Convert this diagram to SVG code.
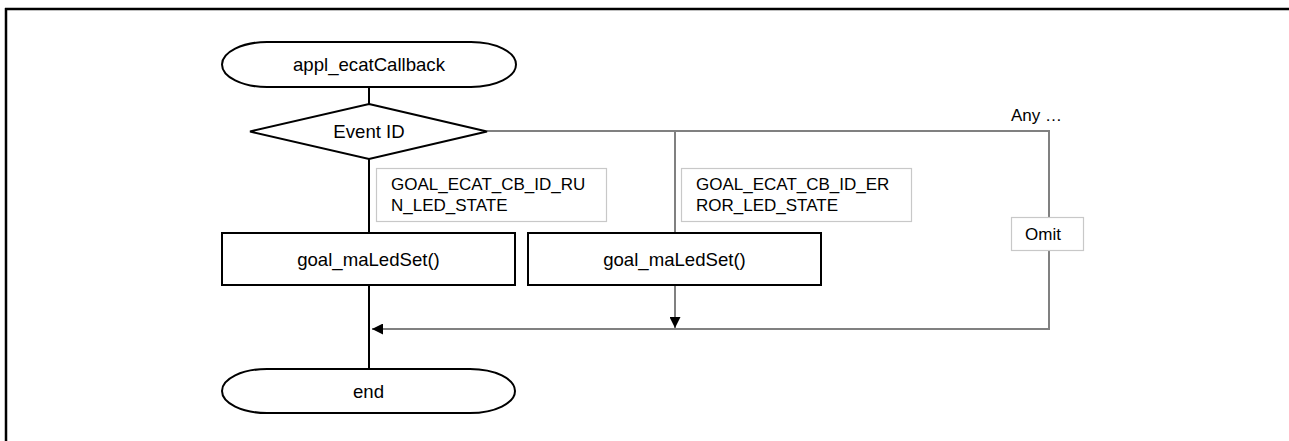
<svg xmlns="http://www.w3.org/2000/svg" width="1289" height="441" viewBox="0 0 1289 441">
<defs>
<style>
.shape{fill:#fff;stroke:#000;stroke-width:2}
.lbl{fill:#fff;stroke:#c8c8c8;stroke-width:1.2}
.main{font-family:"Liberation Sans",Arial,sans-serif;font-size:18.6px;fill:#000;text-anchor:middle}
.small{font-family:"Liberation Sans",Arial,sans-serif;font-size:17px;fill:#000}
.blk{stroke:#000;stroke-width:2;fill:none}
.gry{stroke:#808080;stroke-width:2;fill:none}
</style>
<marker id="ah" viewBox="0 0 10 10" refX="10" refY="5" markerWidth="12" markerHeight="11" markerUnits="userSpaceOnUse" orient="auto">
<path d="M0,0 L10,5 L0,10 Z" fill="#000"/>
</marker>
</defs>
<rect width="1289" height="441" fill="#fff"/>
<g id="frame">
<line x1="5" y1="9" x2="1289" y2="9" stroke="#000" stroke-width="2.5"/>
<line x1="6" y1="8" x2="6" y2="441" stroke="#000" stroke-width="2.5"/>
</g>
<g id="connectors">
<line class="blk" x1="369" y1="87" x2="369" y2="104"/>
<line class="blk" x1="369" y1="159" x2="369" y2="233"/>
<line class="blk" x1="369" y1="285" x2="369" y2="369"/>
<polyline class="gry" points="487,131 1049,131 1049,329 372,329" marker-end="url(#ah)"/>
<line class="gry" x1="675" y1="131" x2="675" y2="233"/>
<line class="gry" x1="675" y1="285" x2="675" y2="328" marker-end="url(#ah)"/>
</g>
<g id="start">
<rect class="shape" x="222" y="42" width="294" height="45" rx="45" ry="22.5"/>
<text class="main" x="369" y="71">appl_ecatCallback</text>
</g>
<g id="decision">
<polygon class="shape" points="369,104 487,131.5 369,159 250,131.5"/>
<text class="main" x="369" y="138">Event ID</text>
</g>
<g id="label-run">
<rect class="lbl" x="376.5" y="168.5" width="230" height="53"/>
<text class="small" x="391" y="190">GOAL_ECAT_CB_ID_RU</text>
<text class="small" x="391" y="211">N_LED_STATE</text>
</g>
<g id="label-error">
<rect class="lbl" x="681.5" y="168.5" width="230" height="53"/>
<text class="small" x="696" y="190">GOAL_ECAT_CB_ID_ER</text>
<text class="small" x="696" y="211">ROR_LED_STATE</text>
</g>
<g id="any-label">
<text class="small" x="1011" y="121">Any …</text>
</g>
<g id="omit-label">
<rect class="lbl" x="1011.5" y="217.5" width="72" height="33"/>
<text class="small" x="1025" y="240">Omit</text>
</g>
<g id="process-run">
<rect class="shape" x="222" y="233" width="293" height="52"/>
<text class="main" x="368.5" y="266">goal_maLedSet()</text>
</g>
<g id="process-error">
<rect class="shape" x="528" y="233" width="293" height="52"/>
<text class="main" x="674.5" y="266">goal_maLedSet()</text>
</g>
<g id="end">
<rect class="shape" x="222" y="369" width="293" height="44" rx="45" ry="22"/>
<text class="main" x="368.5" y="397.5">end</text>
</g>
</svg>
